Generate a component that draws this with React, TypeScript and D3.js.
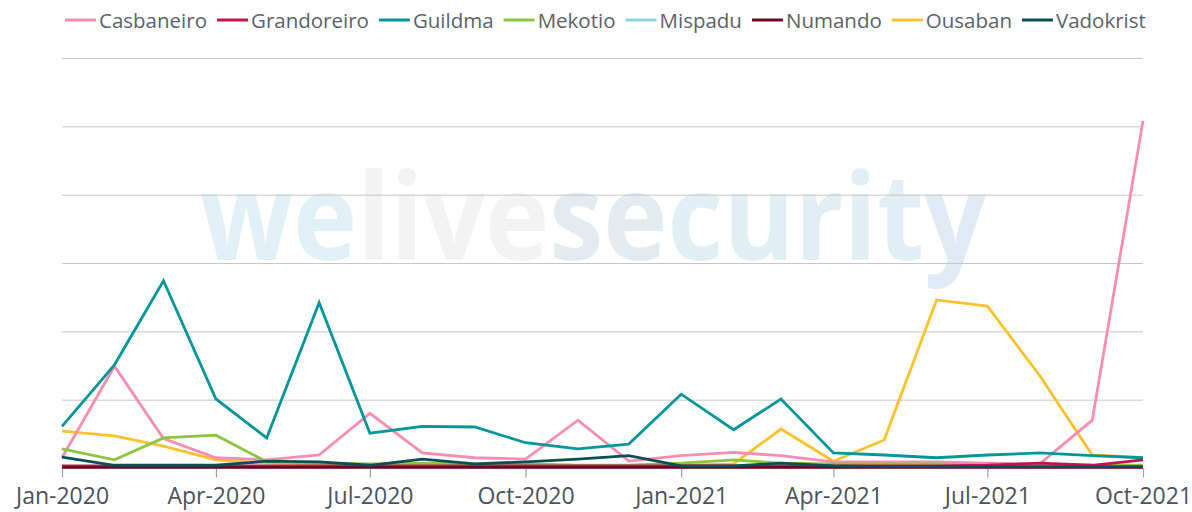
import React, { useEffect, useRef } from 'react';
import * as d3 from 'd3';

// monthly detections, Jan-2020 .. Oct-2021
const months = [
  '2020-01', '2020-02', '2020-03', '2020-04', '2020-05', '2020-06', '2020-07', '2020-08',
  '2020-09', '2020-10', '2020-11', '2020-12', '2021-01', '2021-02', '2021-03', '2021-04',
  '2021-05', '2021-06', '2021-07', '2021-08', '2021-09', '2021-10',
];

const casbaneiro = [1.5, 14.9, 4.3, 1.5, 1.2, 1.9, 8.0, 2.2, 1.5, 1.3, 7.0, 1.0, 1.8, 2.3, 1.8, 0.9, 0.9, 0.9, 0.7, 0.6, 7.0, 50.8];
const grandoreiro = [0.3, 0.3, 0.3, 0.3, 0.3, 0.3, 0.3, 0.3, 0.3, 0.3, 0.3, 0.3, 0.3, 0.3, 0.3, 0.3, 0.3, 0.3, 0.4, 0.7, 0.4, 1.2];
const guildma = [6.1, 15.1, 27.4, 10.1, 4.4, 24.2, 5.1, 6.1, 6.0, 3.7, 2.8, 3.5, 10.8, 5.6, 10.1, 2.2, 1.9, 1.5, 1.9, 2.2, 1.8, 1.5];
const mekotio = [2.8, 1.2, 4.4, 4.8, 0.9, 0.7, 0.6, 0.7, 0.6, 0.6, 0.4, 0.4, 0.7, 1.2, 0.7, 0.6, 0.6, 0.6, 0.4, 0.4, 0.4, 0.4];
const mispadu = [0.2, 0.2, 0.2, 0.2, 0.2, 0.2, 0.2, 0.2, 0.2, 0.2, 0.2, 0.2, 0.2, 0.2, 0.2, 0.2, 0.2, 0.2, 0.2, 0.2, 0.2, 0.2];
const numando = [0.1, 0.1, 0.1, 0.1, 0.1, 0.1, 0.1, 0.1, 0.1, 0.1, 0.1, 0.1, 0.1, 0.1, 0.1, 0.1, 0.1, 0.1, 0.1, 0.1, 0.1, 0.1];
const ousaban = [5.4, 4.7, 3.2, 1.2, 0.7, 0.6, 0.3, 0.4, 0.3, 0.4, 0.3, 0.3, 0.4, 0.6, 5.7, 1.0, 4.1, 24.6, 23.7, 13.5, 1.9, 1.5];
const vadokrist = [1.6, 0.4, 0.4, 0.4, 1.0, 0.9, 0.4, 1.3, 0.6, 0.9, 1.3, 1.8, 0.3, 0.3, 0.7, 0.3, 0.2, 0.2, 0.2, 0.2, 0.2, 0.2];

const seriesNames = ['Casbaneiro', 'Grandoreiro', 'Guildma', 'Mekotio', 'Mispadu', 'Numando', 'Ousaban', 'Vadokrist'];
const seriesValues = [casbaneiro, grandoreiro, guildma, mekotio, mispadu, numando, ousaban, vadokrist];
const seriesColors = ['#f78db4', '#c4124f', '#05959b', '#8cc540', '#8dd2da', '#6a0a25', '#fdc12c', '#0b4f56'];
// draw order: low ones first, the dark ones on top
const drawOrder = [4, 6, 0, 2, 3, 1, 5, 7];

const yTicks = [0, 10, 20, 30, 40, 50, 60];
const xTickLabels = ['Jan-2020', 'Apr-2020', 'Jul-2020', 'Oct-2020', 'Jan-2021', 'Apr-2021', 'Jul-2021', 'Oct-2021'];

const App = () => {
  const svgRef = useRef<SVGSVGElement>(null);

  useEffect(() => {
    const width = 1192;
    const height = 512;
    const margin = { top: 58, right: 49, bottom: 44, left: 62 };
    const svg = d3.select(svgRef.current);
    svg.selectAll('*').remove();

    const parse = d3.timeParse('%Y-%m');
    const dates = months.map(m => parse(m) as Date);

    const x = d3.scaleTime()
      .domain(d3.extent(dates) as [Date, Date])
      .range([margin.left, width - margin.right]);
    const y = d3.scaleLinear()
      .domain([0, 60])
      .range([height - margin.bottom, margin.top]);

    // watermark, squeezed horizontally to its width in the original
    const wmG = svg.append('g');
    const wm = wmG.append('text')
      .attr('x', 0)
      .attr('y', 0)
      .attr('font-family', '"Open Sans", sans-serif')
      .attr('font-weight', 700)
      .attr('font-size', 120);
    [['we', '#e1f0f6'], ['live', '#f3f3f3'], ['se', '#e3ebf1'], ['curit', '#e1eff5'], ['y', '#dfeaf4']].forEach(([t, c]) => {
      wm.append('tspan').attr('fill', c).text(t);
    });
    const wmLen = (wm.node() as SVGTextElement).getComputedTextLength();
    wmG.attr('transform', `translate(200, 260) scale(${786 / wmLen}, 1)`);

    // gridlines
    svg.append('g')
      .selectAll('line')
      .data(yTicks)
      .join('line')
      .attr('x1', margin.left)
      .attr('x2', width - margin.right)
      .attr('y1', d => y(d) + 0.5)
      .attr('y2', d => y(d) + 0.5)
      .attr('stroke', '#c6c6c6')
      .attr('stroke-width', 1);

    // x axis
    const tickDates = d3.timeMonth.every(3)!.range(dates[0], d3.timeDay.offset(dates[dates.length - 1], 1));
    const xAxis = svg.append('g')
      .attr('transform', `translate(0, ${y(0) + 0.5})`)
      .call(d3.axisBottom(x)
        .tickValues(tickDates)
        .tickSize(9)
        .tickPadding(10)
        .tickFormat((d, i) => xTickLabels[i]));
    xAxis.select('.domain').remove();
    xAxis.selectAll('line').attr('stroke', '#9a9ea4').attr('stroke-width', 1.2);
    xAxis.selectAll('text')
      .attr('font-family', '"Open Sans", sans-serif')
      .attr('font-size', 23)
      .attr('fill', '#4c535b');

    // lines
    const line = d3.line<number>()
      .x((d, i) => x(dates[i]))
      .y(d => y(d));

    svg.append('g')
      .selectAll('path')
      .data(drawOrder)
      .join('path')
      .attr('fill', 'none')
      .attr('stroke', k => seriesColors[k])
      .attr('stroke-width', 2.8)
      .attr('stroke-linejoin', 'miter')
      .attr('d', k => line(seriesValues[k]));

    // legend, laid out by measured text widths
    const legend = svg.append('g');
    let cx = 65;
    seriesNames.forEach((name, i) => {
      const g = legend.append('g').attr('transform', `translate(${cx}, 0)`);
      g.append('line')
        .attr('x1', 0).attr('x2', 31)
        .attr('y1', 20).attr('y2', 20)
        .attr('stroke', seriesColors[i])
        .attr('stroke-width', 3);
      const t = g.append('text')
        .attr('x', 34)
        .attr('y', 27.5)
        .attr('font-family', '"Open Sans", sans-serif')
        .attr('font-size', 20.5)
        .attr('fill', '#5b626a')
        .text(name);
      cx += 34 + (t.node() as SVGTextElement).getComputedTextLength() + 10;
    });
  }, []);

  return (
    <svg ref={svgRef} width={1192} height={512} style={{ position: 'absolute', left: 0, top: 0, background: '#fff' }} />
  );
};

export default App;
